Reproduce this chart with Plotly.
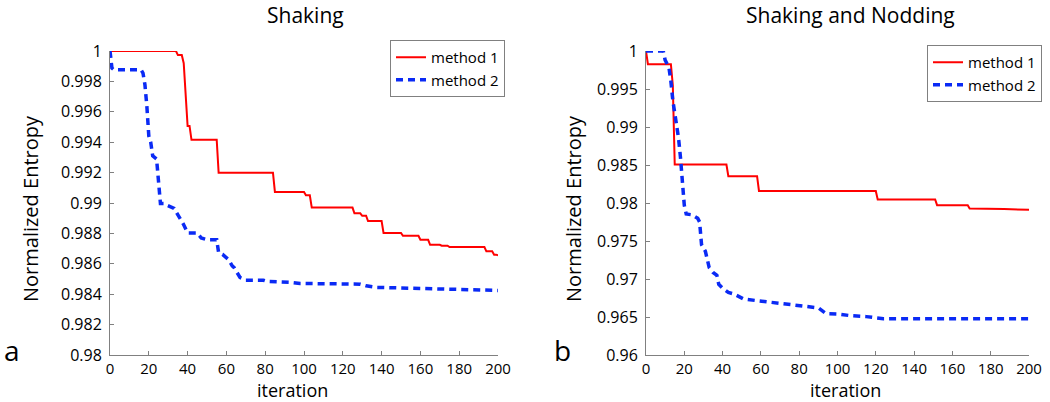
import plotly.graph_objects as go

# ---------------- data ----------------
# Left panel: "Shaking"
a_m1_iter = [0, 34, 35, 37, 38, 40, 41, 42, 55, 56, 84, 85, 100, 101, 103, 104, 125, 126, 129, 130,
             132, 133, 140, 141, 150, 151, 159, 160, 164, 165, 170, 171, 174, 175, 193, 194, 197, 198,
             199, 200]
a_m1_val = [1.0, 1.0, 0.99973, 0.99973, 0.9992, 0.99507, 0.99507, 0.99416, 0.99416, 0.99199, 0.99199,
            0.99073, 0.99073, 0.99051, 0.99051, 0.9897, 0.9897, 0.98932, 0.98932, 0.98916, 0.98916,
            0.98881, 0.98881, 0.98803, 0.98803, 0.98784, 0.98784, 0.98758, 0.98758, 0.98725, 0.98725,
            0.98719, 0.98719, 0.9871, 0.9871, 0.98682, 0.98682, 0.9866, 0.9866, 0.98655]

a_m2_iter = [0, 1, 2, 16, 17, 18, 19, 20, 21, 22, 24, 25, 26, 28, 29, 33, 35, 38, 40, 45, 47, 50, 55,
             56, 58, 61, 63, 64, 67, 70, 79, 81, 94, 98, 129, 132, 137, 153, 165, 200]
a_m2_val = [1.0, 0.99887, 0.99876, 0.99876, 0.99855, 0.99779, 0.99637, 0.99442, 0.99399, 0.99311,
            0.9929, 0.9916, 0.98997, 0.98997, 0.98987, 0.98965, 0.98922, 0.98857, 0.98803, 0.98803,
            0.9877, 0.98759, 0.98759, 0.98672, 0.98662, 0.98629, 0.98586, 0.98575, 0.9851, 0.98492,
            0.98492, 0.98484, 0.98477, 0.98471, 0.98466, 0.98455, 0.98445, 0.9844, 0.98432, 0.98425]

# Right panel: "Shaking and Nodding"
b_m1_iter = [0, 1, 13, 14, 15, 42, 43, 58, 59, 120, 121, 151, 152, 168, 169, 186, 187, 200]
b_m1_val = [1.0, 0.99827, 0.99827, 0.9955, 0.98505, 0.98505, 0.98353, 0.98353, 0.98158, 0.98158,
            0.98046, 0.98046, 0.97972, 0.97972, 0.97928, 0.97928, 0.9792, 0.97911]

b_m2_iter = [0, 9, 10, 12, 13, 14, 16, 17, 18, 19, 20, 21, 24, 27, 28, 29, 31, 33, 35, 37, 38, 40,
             43, 46, 51, 58, 65, 74, 85, 90, 94, 100, 106, 115, 124, 200]
b_m2_val = [1.0, 1.0, 0.9988, 0.9978, 0.996, 0.9935, 0.9902, 0.9885, 0.986, 0.983, 0.9797, 0.97855,
            0.97845, 0.97798, 0.9775, 0.97452, 0.97365, 0.9715, 0.97085, 0.9705, 0.9693, 0.9688,
            0.96823, 0.96802, 0.96737, 0.96715, 0.96693, 0.96663, 0.96635, 0.9662, 0.96545, 0.9654,
            0.9652, 0.96505, 0.96477, 0.96477]

series_names = ["method 1", "method 2"]
panel_titles = ["Shaking", "Shaking and Nodding"]
panel_letters = ["a", "b"]
x_label = "iteration"
y_label = "Normalized Entropy"

x_ticks = [0, 20, 40, 60, 80, 100, 120, 140, 160, 180, 200]
a_y_ticks = [0.98, 0.982, 0.984, 0.986, 0.988, 0.99, 0.992, 0.994, 0.996, 0.998, 1.0]
a_y_text = ["0.98", "0.982", "0.984", "0.986", "0.988", "0.99", "0.992", "0.994", "0.996", "0.998", "1"]
b_y_ticks = [0.96, 0.965, 0.97, 0.975, 0.98, 0.985, 0.99, 0.995, 1.0]
b_y_text = ["0.96", "0.965", "0.97", "0.975", "0.98", "0.985", "0.99", "0.995", "1"]

# ---------------- figure ----------------
W, H = 1050, 402
FONT = "Open Sans"
RED = "#ff0000"
BLUE = "#0a2af5"


def px(x):
    return x / W


def py(y):
    return 1 - y / H


fig = go.Figure()

fig.add_trace(go.Scatter(x=a_m1_iter, y=a_m1_val, mode="lines", name=series_names[0],
                         line=dict(color=RED, width=2), xaxis="x", yaxis="y", legend="legend"))
fig.add_trace(go.Scatter(x=a_m2_iter, y=a_m2_val, mode="lines", name=series_names[1],
                         line=dict(color=BLUE, width=3.5, dash="7px,5px"), xaxis="x", yaxis="y",
                         legend="legend"))
fig.add_trace(go.Scatter(x=b_m1_iter, y=b_m1_val, mode="lines", name=series_names[0],
                         line=dict(color=RED, width=2), xaxis="x2", yaxis="y2", legend="legend2"))
fig.add_trace(go.Scatter(x=b_m2_iter, y=b_m2_val, mode="lines", name=series_names[1],
                         line=dict(color=BLUE, width=3.5, dash="7px,5px"), xaxis="x2", yaxis="y2",
                         legend="legend2"))

axis_common = dict(showline=True, linecolor="#808080", linewidth=1, ticks="inside", ticklen=4,
                   tickcolor="#808080", tickwidth=1, showgrid=False, zeroline=False, mirror=False,
                   automargin=False)
tick_font = dict(family=FONT, size=16, color="black")
xtick_font = dict(family=FONT, size=15, color="black")

y_dom = [py(355), py(51)]
legend_common = dict(xanchor="right", yanchor="top", bgcolor="white",
                     bordercolor="#808080", borderwidth=1,
                     font=dict(family=FONT, size=15, color="black"),
                     tracegroupgap=0, itemwidth=30)
fig.update_layout(
    width=W, height=H,
    margin=dict(l=0, r=0, t=0, b=0, autoexpand=False),
    paper_bgcolor="white", plot_bgcolor="white",
    font=dict(family=FONT, color="black"),
    xaxis=dict(domain=[px(110), px(498)], range=[0, 200], tickvals=x_ticks, anchor="y",
               ticklabelstandoff=0, tickfont=xtick_font, **axis_common),
    yaxis=dict(domain=y_dom, range=[0.98, 1.0], tickvals=a_y_ticks, ticktext=a_y_text, anchor="x",
               ticklabelstandoff=4, tickfont=tick_font, **axis_common),
    xaxis2=dict(domain=[px(646), px(1029)], range=[0, 200], tickvals=x_ticks, anchor="y2",
                ticklabelstandoff=0, tickfont=xtick_font, **axis_common),
    yaxis2=dict(domain=y_dom, range=[0.96, 1.0], tickvals=b_y_ticks, ticktext=b_y_text, anchor="x2",
                ticklabelstandoff=4, tickfont=tick_font, **axis_common),
    legend=dict(x=px(505), y=py(40), **legend_common),
    legend2=dict(x=px(1042), y=py(45), **legend_common),
    showlegend=True,
)


def label(text, x, y, size, angle=0, **kw):
    return dict(text=text, x=px(x), y=py(y), xref="paper", yref="paper", showarrow=False,
                xanchor="center", yanchor="middle", textangle=angle, font=dict(size=size), **kw)


ann = [
    label(panel_titles[0], 305, 15, 21),
    label(panel_titles[1], 850, 15, 21),
    label(x_label, 292, 390, 18),
    label(x_label, 845, 390, 18),
    label(y_label, 30, 209, 20, -90),
    label(y_label, 573, 209, 20, -90),
    label(panel_letters[0], 12, 350, 28),
    label(panel_letters[1], 562, 350, 28),
]
fig.update_layout(annotations=ann)

fig.write_html("out.html", config={"displayModeBar": False},
               post_script="document.body.style.margin='0';")
